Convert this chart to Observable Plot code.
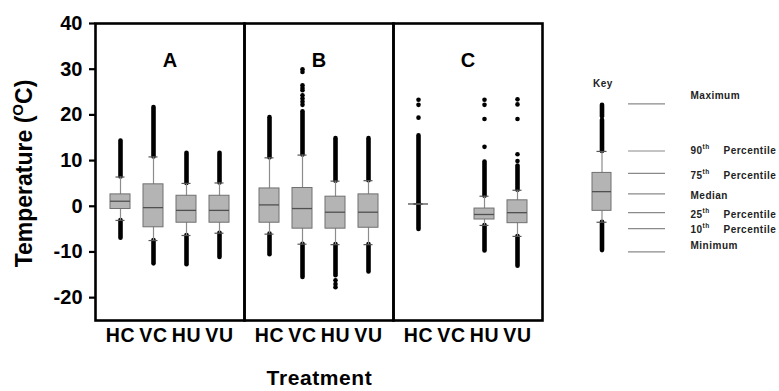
<!DOCTYPE html>
<html>
<head>
<meta charset="utf-8">
<script src="https://cdn.jsdelivr.net/npm/d3@7"></script>
<script src="https://cdn.jsdelivr.net/npm/@observablehq/plot@0.6"></script>
<style>
  html, body { margin: 0; padding: 0; background: #fff; }
  #wrap { position: relative; width: 779px; height: 391px; overflow: hidden; }
  #wrap svg { position: absolute; top: 0; }
</style>
</head>
<body>
<div id="wrap"></div>
<script>
// ---- Data ----
const panels = ["A", "B", "C"];
const treatments = ["HC", "VC", "HU", "VU"];
const yTicks = [-20, -10, 0, 10, 20, 30, 40];

// one entry per box (panel C has no VC box)
const panelOf     = ["A", "A", "A", "A", "B", "B", "B", "B", "C", "C", "C"];
const treatmentOf = ["HC", "VC", "HU", "VU", "HC", "VC", "HU", "VU", "HC", "HU", "VU"];
const p10 = [-3.1, -7.5, -6.4, -5.9, -6.1, -8.3, -8.4, -8.4, 0.5, -4.2, -6.6];
const p25 = [-0.6, -4.6, -3.6, -3.6, -3.6, -4.9, -4.9, -4.7, 0.5, -2.9, -3.7];
const p50 = [1.1, -0.3, -0.9, -0.9, 0.3, -0.5, -1.3, -1.3, 0.5, -1.8, -1.4];
const p75 = [2.6, 4.8, 2.3, 2.3, 3.9, 4.0, 2.1, 2.6, 0.5, -0.5, 1.3];
const p90 = [6.4, 10.8, 5.0, 5.1, 10.6, 11.2, 5.5, 5.6, 0.5, 2.2, 3.5];
// extent of the dense runs of outlier points above p90 / below p10
const outlierTop    = [14.3, 21.6, 11.6, 11.6, 19.4, 20.7, 14.8, 14.8, 15.4, 9.7, 8.8];
const outlierBottom = [-7.0, -12.6, -12.8, -11.2, -10.6, -15.6, -15.2, -14.4, -5.1, -9.8, -13.1];

// isolated outlier points
const strayPanel     = ["B","B","B","B","B","B","B","B","B", "B","B","B", "C","C","C", "C","C","C","C", "C","C","C","C","C"];
const strayTreatment = ["VC","VC","VC","VC","VC","VC","VC","VC","VC", "HU","HU","HU", "HC","HC","HC", "HU","HU","HU","HU", "VU","VU","VU","VU","VU"];
const strayValue     = [30.0, 29.4, 26.5, 25.9, 25.4, 24.3, 23.6, 22.9, 22.2, -16.2, -17.0, -17.7, 23.3, 22.2, 19.4, 23.3, 22.2, 19.1, 13.0, 23.4, 22.3, 19.1, 11.4, 9.9];

// key
const keyWord        = ["Maximum", "90", "75", "Median", "25", "10", "Minimum"];
const keyIsPercentile = [false, true, true, false, true, true, false];
const keyLineAt      = [22.4, 12.1, 7.2, 2.7, -1.4, -4.9, -10.0];
const keyLabelAt     = [24.2, 12.1, 6.7, 2.4, -1.8, -5.1, -8.6];
const keyP10 = -3.5, keyP25 = -1.0, keyP50 = 3.2, keyP75 = 7.3, keyP90 = 12.0;
const keyOutlierRuns = [[12.0, 18.8], [19.6, 22.1], [-3.5, -9.7]];
const keyTitleAt = 26.7;

// ---- Tables for the library ----
const boxes = panelOf.map((p, i) => ({
  panel: p, treatment: treatmentOf[i],
  p10: p10[i], p25: p25[i], p50: p50[i], p75: p75[i], p90: p90[i],
  top: outlierTop[i], bottom: outlierBottom[i]
}));
const strays = strayValue.map((v, i) => ({panel: strayPanel[i], treatment: strayTreatment[i], value: v}));

const FONT = "'Liberation Sans', Arial, Helvetica, sans-serif";
const W = 779, H = 391, ML = 94, MR = 236, MT = 23, MB = 71;
const yDomain = [-25, 40];

const main = Plot.plot({
  width: W, height: H,
  marginLeft: ML, marginRight: MR, marginTop: MT, marginBottom: MB,
  style: {fontFamily: FONT, background: "white", overflow: "visible"},
  fx: {domain: panels, padding: 0, axis: null},
  x: {domain: treatments, paddingInner: 0.38, paddingOuter: 0.4},
  y: {domain: yDomain},
  marks: [
    // outlier runs
    Plot.ruleX(boxes, {fx: "panel", x: "treatment", y1: "p90", y2: "top", stroke: "black", strokeWidth: 4.6, strokeLinecap: "round"}),
    Plot.ruleX(boxes, {fx: "panel", x: "treatment", y1: "p10", y2: "bottom", stroke: "black", strokeWidth: 4.6, strokeLinecap: "round"}),
    Plot.dot(strays, {fx: "panel", x: "treatment", y: "value", r: 2.3, fill: "black", stroke: null}),
    // whiskers
    Plot.ruleX(boxes, {fx: "panel", x: "treatment", y1: "p10", y2: "p90", stroke: "#8c8c8c", strokeWidth: 1.2}),
    Plot.tickY(boxes, {fx: "panel", x: "treatment", y: "p90", stroke: "#555", strokeWidth: 1.2, inset: 5.5}),
    Plot.tickY(boxes, {fx: "panel", x: "treatment", y: "p10", stroke: "#555", strokeWidth: 1.2, inset: 5.5}),
    // boxes
    Plot.barY(boxes, {fx: "panel", x: "treatment", y1: "p25", y2: "p75", fill: "#b4b4b4", stroke: "#707070", strokeWidth: 1}),
    Plot.tickY(boxes, {fx: "panel", x: "treatment", y: "p50", stroke: "#505050", strokeWidth: 1.3}),
    // panel letters
    Plot.text(panels, {fx: d => d, text: d => d, frameAnchor: "top", dy: 29, fontSize: 20, fontWeight: "bold", fill: "black"}),
    Plot.frame({stroke: "black", strokeWidth: 2.6}),
    Plot.axisY({ticks: yTicks, tickFormat: d => String(d), tickSize: 6, tickPadding: 7, strokeWidth: 2.2,
                fontSize: 20, fontWeight: "bold", fill: "black", label: null}),
    Plot.axisX({tickSize: 0, tickPadding: 8, fontSize: 19.5, fontWeight: "bold", fill: "black", label: null})
  ]
});
main.style.left = "0px";
document.getElementById("wrap").appendChild(main);

// slightly wider tick lettering, as in the reference
d3.select(main).selectAll('g[aria-label="x-axis tick label"] text').attr("letter-spacing", "0.8px");

// axis titles
const ms = d3.select(main);
const yt = ms.append("text")
  .attr("transform", `translate(32, ${(MT + (H - MB)) / 2 + 2}) rotate(-90)`)
  .attr("text-anchor", "middle")
  .attr("font-family", FONT).attr("font-size", 23).attr("font-weight", "bold").attr("fill", "black");
yt.append("tspan").text("Temperature (");
yt.append("tspan").attr("font-size", 15).attr("dy", -9).text("O");
yt.append("tspan").attr("dy", 9).text("C)");
ms.append("text")
  .attr("x", (ML + (W - MR)) / 2 + 1).attr("y", 385)
  .attr("text-anchor", "middle")
  .attr("font-family", FONT).attr("font-size", 21).attr("font-weight", "bold").attr("fill", "black")
  .attr("letter-spacing", "0.6px")
  .text("Treatment");

// ---- Key (own small plot sharing the same vertical scale) ----
const KX = 580, KW = 199;
const gx = 21.5;           // glyph centre
const rows = keyWord.map((w, i) => ({word: w, pct: keyIsPercentile[i], lineAt: keyLineAt[i], labelAt: keyLabelAt[i]}));
const runs = keyOutlierRuns.map(([a, b]) => ({a, b}));
const key = Plot.plot({
  width: KW, height: H,
  marginLeft: 0, marginRight: 0, marginTop: MT, marginBottom: MB,
  style: {fontFamily: FONT, background: "transparent", letterSpacing: "0.5px"},
  x: {domain: [0, KW], axis: null},
  y: {domain: yDomain, axis: null},
  marks: [
    Plot.ruleX(runs, {x: gx, y1: "a", y2: "b", stroke: "black", strokeWidth: 4.6, strokeLinecap: "round"}),
    Plot.ruleX([0], {x: gx, y1: keyP10, y2: keyP90, stroke: "#8c8c8c", strokeWidth: 1.2}),
    Plot.ruleY([keyP10, keyP90], {y: d => d, x1: gx - 5, x2: gx + 5, stroke: "#555", strokeWidth: 1.2}),
    Plot.rect([0], {x1: gx - 9.5, x2: gx + 9.5, y1: keyP25, y2: keyP75, fill: "#b4b4b4", stroke: "#707070", strokeWidth: 1}),
    Plot.ruleY([keyP50], {y: d => d, x1: gx - 9.5, x2: gx + 9.5, stroke: "#505050", strokeWidth: 1.3}),
    Plot.ruleY(rows, {y: "lineAt", x1: 48, x2: 85, stroke: "#8a8a8a", strokeWidth: 1.2}),
    Plot.text(rows, {x: 110, y: "labelAt", text: "word", textAnchor: "start", fontSize: 10, fontWeight: "bold", fill: "#222"}),
    Plot.text(rows.filter(d => d.pct), {x: 122, y: "labelAt", text: () => "th", textAnchor: "start", fontSize: 6.5, fontWeight: "bold", dy: -4, fill: "#222"}),
    Plot.text(rows.filter(d => d.pct), {x: 143, y: "labelAt", text: () => "Percentile", textAnchor: "start", fontSize: 10, fontWeight: "bold", fill: "#222"}),
    Plot.text(["Key"], {x: 12.5, y: keyTitleAt, text: d => d, textAnchor: "start", fontSize: 10, fontWeight: "bold", fill: "#222"})
  ]
});
key.style.left = KX + "px";
document.getElementById("wrap").appendChild(key);
</script>
</body>
</html>
